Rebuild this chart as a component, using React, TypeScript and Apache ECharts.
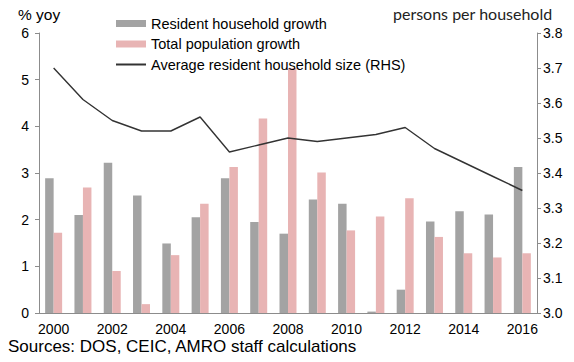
import React, { useEffect, useRef } from "react";
import * as echarts from "echarts";

const years = ["2000","2001","2002","2003","2004","2005","2006","2007","2008","2009","2010","2011","2012","2013","2014","2015","2016"];
const householdGrowth = [2.89, 2.1, 3.22, 2.52, 1.49, 2.05, 2.89, 1.95, 1.7, 2.43, 2.34, 0.03, 0.5, 1.96, 2.18, 2.11, 3.13];
const populationGrowth = [1.72, 2.69, 0.9, 0.19, 1.24, 2.34, 3.13, 4.17, 5.25, 3.01, 1.77, 2.07, 2.46, 1.63, 1.28, 1.19, 1.28];
const householdSize = [3.70, 3.61, 3.55, 3.52, 3.52, 3.56, 3.46, 3.48, 3.50, 3.49, 3.50, 3.51, 3.53, 3.47, 3.43, 3.39, 3.35];

const FONT = "'Liberation Sans', Arial, sans-serif";
const AXIS_COLOR = "#8c8c8c";

export default function App() {
  const ref = useRef<HTMLDivElement>(null);
  useEffect(() => {
    if (!ref.current) return;
    const chart = echarts.init(ref.current, undefined, { renderer: "svg" });
    chart.setOption({
      animation: false,
      textStyle: { fontFamily: FONT, color: "#000" },
      grid: { left: 39, right: 37, top: 33, bottom: 49 },
      legend: {
        orient: "vertical",
        left: 115,
        top: 16,
        padding: 0,
        itemGap: 5.5,
        itemWidth: 30,
        itemHeight: 7,
        textStyle: { fontFamily: FONT, fontSize: 14.5, color: "#000", lineHeight: 15 },
        data: [
          { name: "Resident household growth", icon: "rect" },
          { name: "Total population growth", icon: "rect" },
          { name: "Average resident household size (RHS)", itemStyle: { opacity: 0 } },
        ],
      },
      xAxis: {
        type: "category",
        data: years,
        boundaryGap: true,
        axisLine: { lineStyle: { color: AXIS_COLOR, width: 1 } },
        axisTick: { interval: 1, length: 5, lineStyle: { color: AXIS_COLOR } },
        axisLabel: { interval: 1, fontSize: 14, color: "#000", margin: 9, fontFamily: FONT },
      },
      yAxis: [
        {
          type: "value",
          min: 0,
          max: 6,
          interval: 1,
          splitLine: { show: false },
          axisLine: { show: true, lineStyle: { color: AXIS_COLOR } },
          axisTick: { show: true, length: 4, lineStyle: { color: AXIS_COLOR } },
          axisLabel: { fontSize: 14, color: "#000", margin: 10, fontFamily: FONT },
        },
        {
          type: "value",
          min: 3.0,
          max: 3.8,
          interval: 0.1,
          position: "right",
          splitLine: { show: false },
          axisLine: { show: true, lineStyle: { color: AXIS_COLOR } },
          axisTick: { show: true, length: 4, lineStyle: { color: AXIS_COLOR } },
          axisLabel: {
            fontSize: 14,
            color: "#000",
            margin: 6,
            fontFamily: FONT,
            formatter: (v: number) => v.toFixed(1),
          },
        },
      ],
      series: [
        {
          name: "Resident household growth",
          type: "bar",
          data: householdGrowth,
          yAxisIndex: 0,
          barGap: "0%",
          barCategoryGap: "42%",
          itemStyle: { color: "#a3a3a3" },
        },
        {
          name: "Total population growth",
          type: "bar",
          data: populationGrowth,
          yAxisIndex: 0,
          itemStyle: { color: "#e8b4b4" },
        },
        {
          name: "Average resident household size (RHS)",
          type: "line",
          data: householdSize,
          yAxisIndex: 1,
          symbol: "none",
          lineStyle: { color: "#333333", width: 1.4 },
          itemStyle: { color: "#333333" },
        },
      ],
      graphic: [
        { type: "text", left: 18, top: 6, style: { text: "% yoy", font: `15.5px ${FONT}`, fill: "#000" } },
        { type: "text", left: 393, top: 5, style: { text: "persons per household", font: `16px Lato, 'Open Sans', sans-serif`, fill: "#222" } },
        { type: "text", left: 8, top: 338, style: { text: "Sources: DOS, CEIC, AMRO staff calculations", font: `17px ${FONT}`, fill: "#000" } },
      ],
    });
    return () => chart.dispose();
  }, []);
  return <div ref={ref} style={{ width: 574, height: 362, position: "absolute", left: 0, top: 0 }} />;
}
